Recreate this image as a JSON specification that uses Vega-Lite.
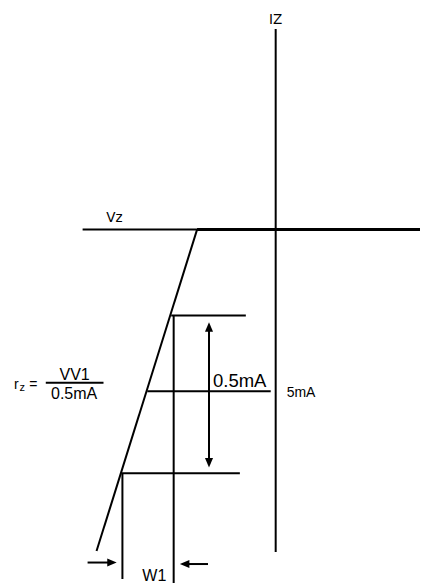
{
  "$schema": "https://vega.github.io/schema/vega-lite/v6.json",
  "width": 422,
  "height": 584,
  "padding": 0,
  "autosize": {"type": "fit", "contains": "padding"},
  "background": "white",
  "config": {"view": {"stroke": null}},
  "datasets": {
    "lines": [
      {"id": "iz_axis", "x1": 277, "y1": 29, "x2": 277, "y2": 553},
      {"id": "vz_axis_left", "x1": 83, "y1": 230, "x2": 199, "y2": 230},
      {"id": "slope", "x1": 198, "y1": 230, "x2": 97, "y2": 552},
      {"id": "h_top", "x1": 172, "y1": 316, "x2": 247, "y2": 316},
      {"id": "h_mid", "x1": 148, "y1": 392, "x2": 272, "y2": 392},
      {"id": "h_bot", "x1": 122, "y1": 474, "x2": 241, "y2": 474},
      {"id": "v_top", "x1": 174.5, "y1": 316, "x2": 174.5, "y2": 584},
      {"id": "v_bot", "x1": 123, "y1": 474, "x2": 123, "y2": 580},
      {"id": "dim_arrow", "x1": 210, "y1": 328, "x2": 210, "y2": 463},
      {"id": "arrow_l", "x1": 88, "y1": 563.5, "x2": 110, "y2": 563.5},
      {"id": "arrow_r", "x1": 188, "y1": 565, "x2": 209, "y2": 565}
    ],
    "thick": [
      {"id": "vz_axis_right", "x1": 198, "y1": 230, "x2": 422, "y2": 230}
    ],
    "frac": [
      {"id": "fraction", "x1": 46, "y1": 383.5, "x2": 104, "y2": 383.5}
    ],
    "heads": [
      {"x": 210, "y": 327.5, "dir": "up"},
      {"x": 210, "y": 463.5, "dir": "down"},
      {"x": 112.5, "y": 563.5, "dir": "right"},
      {"x": 185.5, "y": 565, "dir": "left"}
    ],
    "dejavu": [
      {"t": "IZ", "x": 277, "y": 24, "a": "center"},
      {"t": "Vz", "x": 115, "y": 222, "a": "left"}
    ],
    "big": [
      {"t": "0.5mA", "x": 214, "y": 388}
    ],
    "w": [
      {"t": "W1", "x": 143, "y": 582}
    ],
    "small": [
      {"t": "5mA", "x": 288, "y": 398},
      {"t": "r", "x": 14, "y": 390},
      {"t": "=", "x": 29.5, "y": 390}
    ],
    "fracText": [
      {"t": "VV1", "x": 75, "y": 381},
      {"t": "0.5mA", "x": 74.5, "y": 399.5}
    ],
    "sub": [
      {"t": "z", "x": 19.5, "y": 392}
    ]
  },
  "layer": [
    {
      "data": {"name": "lines"},
      "mark": {"type": "rule", "color": "black", "strokeWidth": 2},
      "encoding": {
        "x": {"field": "x1", "type": "quantitative", "scale": {"domain": [0, 422], "nice": false, "zero": false}, "axis": null},
        "y": {"field": "y1", "type": "quantitative", "scale": {"domain": [584, 0], "nice": false, "zero": false}, "axis": null},
        "x2": {"field": "x2"},
        "y2": {"field": "y2"}
      }
    },
    {
      "data": {"name": "thick"},
      "mark": {"type": "rule", "color": "black", "strokeWidth": 3},
      "encoding": {
        "x": {"field": "x1", "type": "quantitative"},
        "y": {"field": "y1", "type": "quantitative"},
        "x2": {"field": "x2"},
        "y2": {"field": "y2"}
      }
    },
    {
      "data": {"name": "frac"},
      "mark": {"type": "rule", "color": "black", "strokeWidth": 2},
      "encoding": {
        "x": {"field": "x1", "type": "quantitative"},
        "y": {"field": "y1", "type": "quantitative"},
        "x2": {"field": "x2"},
        "y2": {"field": "y2"}
      }
    },
    {
      "data": {"name": "heads"},
      "mark": {"type": "point", "filled": true, "color": "black", "opacity": 1, "size": 90, "strokeWidth": 0},
      "encoding": {
        "x": {"field": "x", "type": "quantitative"},
        "y": {"field": "y", "type": "quantitative"},
        "shape": {
          "field": "dir",
          "type": "nominal",
          "scale": {
            "domain": ["up", "down", "right", "left"],
            "range": ["M0,-1L-0.85,1L0.85,1Z", "M0,1L-0.85,-1L0.85,-1Z", "M1,0L-1,-0.85L-1,0.85Z", "M-1,0L1,-0.85L1,0.85Z"]
          },
          "legend": null
        }
      }
    },
    {
      "data": {"name": "dejavu"},
      "mark": {"type": "text", "font": "DejaVu Sans", "fontSize": 13.5, "color": "black", "baseline": "alphabetic"},
      "encoding": {
        "x": {"field": "x", "type": "quantitative"},
        "y": {"field": "y", "type": "quantitative"},
        "text": {"field": "t"},
        "align": {"field": "a", "type": "nominal", "scale": null, "legend": null}
      }
    },
    {
      "data": {"name": "big"},
      "mark": {"type": "text", "font": "Liberation Sans", "fontSize": 18.5, "color": "black", "align": "left", "baseline": "alphabetic"},
      "encoding": {
        "x": {"field": "x", "type": "quantitative"},
        "y": {"field": "y", "type": "quantitative"},
        "text": {"field": "t"}
      }
    },
    {
      "data": {"name": "w"},
      "mark": {"type": "text", "font": "Liberation Sans", "fontSize": 16, "color": "black", "align": "left", "baseline": "alphabetic"},
      "encoding": {
        "x": {"field": "x", "type": "quantitative"},
        "y": {"field": "y", "type": "quantitative"},
        "text": {"field": "t"}
      }
    },
    {
      "data": {"name": "small"},
      "mark": {"type": "text", "font": "Liberation Sans", "fontSize": 14, "color": "black", "align": "left", "baseline": "alphabetic"},
      "encoding": {
        "x": {"field": "x", "type": "quantitative"},
        "y": {"field": "y", "type": "quantitative"},
        "text": {"field": "t"}
      }
    },
    {
      "data": {"name": "fracText"},
      "mark": {"type": "text", "font": "Liberation Sans", "fontSize": 16, "color": "black", "align": "center", "baseline": "alphabetic"},
      "encoding": {
        "x": {"field": "x", "type": "quantitative"},
        "y": {"field": "y", "type": "quantitative"},
        "text": {"field": "t"}
      }
    },
    {
      "data": {"name": "sub"},
      "mark": {"type": "text", "font": "Liberation Sans", "fontSize": 11, "color": "black", "align": "left", "baseline": "alphabetic"},
      "encoding": {
        "x": {"field": "x", "type": "quantitative"},
        "y": {"field": "y", "type": "quantitative"},
        "text": {"field": "t"}
      }
    }
  ]
}
